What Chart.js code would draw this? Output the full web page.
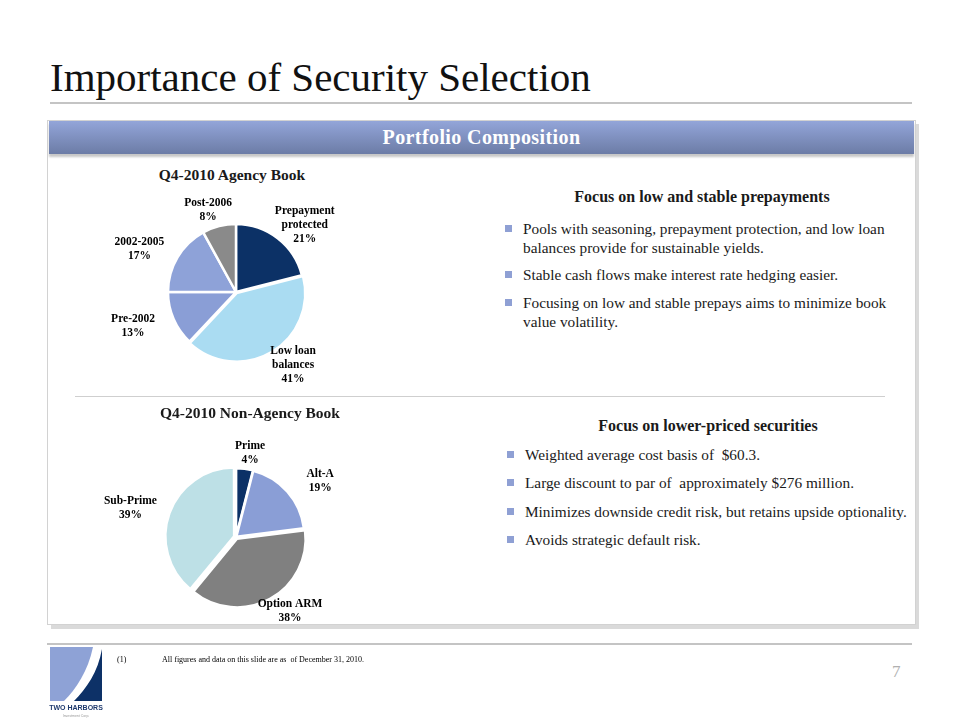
<!DOCTYPE html>
<html>
<head>
<meta charset="utf-8">
<script src="https://cdn.jsdelivr.net/npm/chart.js@4"></script>
<style>
  html, body { margin: 0; padding: 0; background: #fff; }
  #slide { position: relative; width: 960px; height: 720px; overflow: hidden; font-family: "Liberation Serif", "DejaVu Serif", serif; color: #1a1a1a; }
  .abs { position: absolute; white-space: nowrap; }
  .title { left: 50px; top: 57px; font-size: 41px; line-height: 40px; color: #111; }
  .rule { position: absolute; background: #c4c4c4; }
  .shadow { left: 51px; top: 124px; width: 868px; height: 505px; background: #dadada; position: absolute; }
  .panel { left: 47px; top: 120px; width: 867px; height: 503px; background: #fff; border: 1px solid #d2d2d2; position: absolute; }
  .bar { left: 49px; top: 121px; width: 865px; height: 33px; position: absolute;
         background: linear-gradient(#93a5d9, #6c7ca6); box-shadow: 0 3px 2px #c8c8c8; }
  .bar span { display: block; text-align: center; color: #fff; font-weight: bold; font-size: 20px; line-height: 33px; letter-spacing: 0.4px; }
  .ctitle { font-weight: bold; font-size: 15.5px; line-height: 20px; text-align: center; width: 300px; }
  .head { font-weight: bold; font-size: 16px; line-height: 20px; text-align: center; width: 420px; }
  .bul { font-size: 15.3px; line-height: 19px; }
  .bul::before { content: ""; position: absolute; left: -18px; top: 6px; width: 7px; height: 7px; background: #8fa0d4; }
  .foot { font-size: 8px; line-height: 10px; color: #000; }
  .pgnum { left: 892px; top: 662px; font-size: 17px; line-height: 20px; color: #b0b0b0; }
  .chartbox { position: absolute; width: 300px; height: 230px; }
</style>
</head>
<body>
<div id="slide">
  <div class="abs title">Importance of Security Selection</div>
  <div class="rule" style="left:50px; top:102px; width:862px; height:2px;"></div>

  <div class="shadow"></div>
  <div class="panel"></div>
  <div class="bar"><span>Portfolio Composition</span></div>

  <div class="abs ctitle" style="left:82px; top:165px;">Q4-2010 Agency Book</div>
  <div class="chartbox" style="left:86px; top:177px;"><canvas id="agency"></canvas></div>

  <div class="rule" style="left:75px; top:396px; width:810px; height:1px; background:#cfcfcf;"></div>

  <div class="abs ctitle" style="left:100px; top:403px;">Q4-2010 Non-Agency Book</div>
  <div class="chartbox" style="left:86px; top:422px;"><canvas id="nonagency"></canvas></div>

  <div class="abs head" style="left:492px; top:187px;">Focus on low and stable prepayments</div>
  <div class="abs bul" style="left:523px; top:219px;">Pools with seasoning, prepayment protection, and low loan<br>balances provide for sustainable yields.</div>
  <div class="abs bul" style="left:523px; top:265px;">Stable cash flows make interest rate hedging easier.</div>
  <div class="abs bul" style="left:523px; top:293px;">Focusing on low and stable prepays aims to minimize book<br>value volatility.</div>

  <div class="abs head" style="left:498px; top:416px;">Focus on lower-priced securities</div>
  <div class="abs bul" style="left:525px; top:445px;">Weighted average cost basis of &nbsp;$60.3.</div>
  <div class="abs bul" style="left:525px; top:473px;">Large discount to par of &nbsp;approximately $276 million.</div>
  <div class="abs bul" style="left:525px; top:502px;">Minimizes downside credit risk, but retains upside optionality.</div>
  <div class="abs bul" style="left:525px; top:530px;">Avoids strategic default risk.</div>

  <div class="rule" style="left:47px; top:643px; width:865px; height:2px;"></div>
  <svg class="abs" style="left:44px; top:645px;" width="64" height="75" viewBox="0 0 64 75">
    <path d="M6,2 L49,2 C44,26 32,44 20,56 L6,56 Z" fill="#8ea2d6"/>
    <path d="M58,4 C54,27 42,44 30,56 L58,56 Z" fill="#0d3167"/>
    <text x="32" y="65" font-family="Liberation Sans, Arial, sans-serif" font-size="7" font-weight="bold" fill="#1f3a6e" text-anchor="middle">TWO HARBORS</text>
    <text x="32" y="72" font-family="Liberation Sans, Arial, sans-serif" font-size="3.5" fill="#999" text-anchor="middle">Investment Corp.</text>
  </svg>
  <div class="abs foot" style="left:117px; top:655px;">(1)</div>
  <div class="abs foot" style="left:162px; top:655px;">All figures and data on this slide are as &nbsp;of December 31, 2010.</div>
  <div class="abs pgnum">7</div>
</div>

<script>
// chart data
const agencyLabels = [["Prepayment", "protected"], ["Low loan", "balances"], ["Pre-2002"], ["2002-2005"], ["Post-2006"]];
const agencyValues = [21, 41, 13, 17, 8];
const agencyColors = ["#0c3166", "#aadcf2", "#8a9ed6", "#8ea2d8", "#8a8a8a"];

const nonAgencyLabels = [["Prime"], ["Alt-A"], ["Option ARM"], ["Sub-Prime"]];
const nonAgencyValues = [4, 19, 38, 39];
const nonAgencyColors = ["#0c3166", "#8a9ed6", "#808080", "#bde0e6"];

// draws "label / NN%" outside each slice
const outsideLabels = {
	id: "outsideLabels",
	afterDatasetsDraw(chart, args, opts) {
		const ctx = chart.ctx;
		const meta = chart.getDatasetMeta(0);
		const labels = chart.data.labels;
		const values = chart.data.datasets[0].data;
		ctx.save();
		ctx.font = "bold 11.5px 'Liberation Serif'";
		ctx.fillStyle = "#000";
		ctx.textAlign = "center";
		ctx.textBaseline = "middle";
		meta.data.forEach((arc, i) => {
			const p = arc.getProps(["x", "y", "startAngle", "endAngle", "outerRadius"], true);
			const mid = (p.startAngle + p.endAngle) / 2;
			const lx = p.x + Math.cos(mid) * p.outerRadius * opts.rx;
			const ly = p.y + Math.sin(mid) * p.outerRadius * opts.ry;
			const lines = labels[i].concat(values[i] + "%");
			lines.forEach((t, j) => {
				ctx.fillText(t, lx, ly + (j - (lines.length - 1) / 2) * 14);
			});
		});
		ctx.restore();
	},
};

function makePie(id, labels, values, colors, offsets) {
	return new Chart(document.getElementById(id), {
		type: "pie",
		data: {
			labels: labels,
			datasets: [
				{
					data: values,
					backgroundColor: colors,
					borderColor: "#ffffff",
					borderWidth: 2.5,
					offset: offsets,
					hoverOffset: 0,
					radius: 68,
				},
			],
		},
		options: {
			responsive: true,
			maintainAspectRatio: false,
			animation: false,
			layout: { padding: 0 },
			plugins: {
				legend: { display: false },
				tooltip: { enabled: false },
				outsideLabels: { rx: 1.65, ry: 1.25 },
			},
		},
		plugins: [outsideLabels],
	});
}

makePie("agency", agencyLabels, agencyValues, agencyColors, [0, 5, 0, 0, 0]);
makePie("nonagency", nonAgencyLabels, nonAgencyValues, nonAgencyColors, [2, 2, 8, 8]);
</script>
</body>
</html>
